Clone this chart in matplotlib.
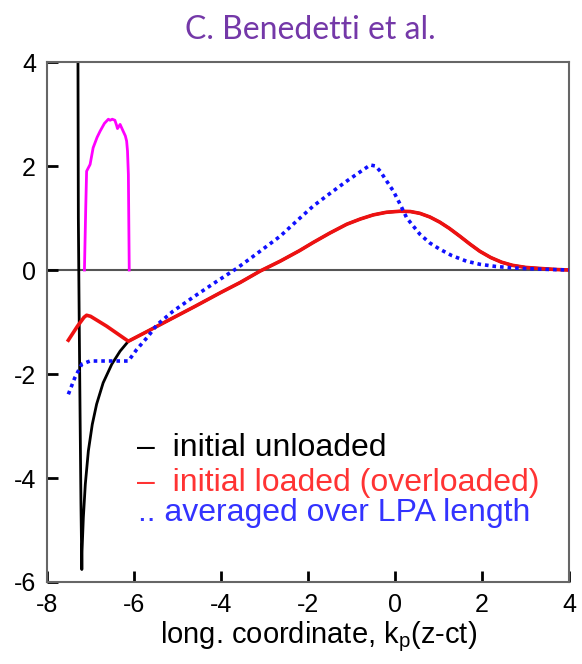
import numpy as np
import matplotlib.pyplot as plt

plt.switch_backend('Agg')
plt.rcParams['font.family'] = ['Liberation Sans', 'DejaVu Sans']
plt.rcParams['mathtext.fontset'] = 'custom'
plt.rcParams['mathtext.rm'] = 'Liberation Sans'
plt.rcParams['mathtext.it'] = 'Liberation Sans'
plt.rcParams['axes.unicode_minus'] = False

# --- data ---
# initial unloaded: steep drop near the driver, then merges with the wake
x_black = [-7.29, -7.28, -7.26, -7.24, -7.22, -7.20, -7.195, -7.165, -7.12, -7.05,
           -6.96, -6.86, -6.71, -6.51, -6.32, -6.13]
y_black = [4.5, 1.0, -1.0, -2.8, -4.5, -5.76, -5.40, -4.76, -4.12, -3.48,
           -2.97, -2.58, -2.17, -1.81, -1.56, -1.37]

# loaded: head part before the beam ends
x_red = [-7.51, -7.30, -7.15, -7.09, -7.00, -6.63, -6.13]
y_red = [-1.35, -1.08, -0.91, -0.87, -0.89, -1.08, -1.37]

# common wake behind the beam (black lies under red)
x_wake = [-6.13, -5.67, -5.17, -4.6, -4.0, -3.56, -3.1, -2.64, -2.2, -1.88, -1.5,
          -1.11, -0.8, -0.5, -0.2, 0.11, 0.35, 0.57, 0.8, 1.03, 1.25, 1.49, 1.72,
          1.95, 2.2, 2.45, 2.7, 3.0, 3.33, 3.7, 4.0]
y_wake = [-1.37, -1.17, -0.95, -0.70, -0.43, -0.24, -0.02, 0.17, 0.37, 0.53, 0.71,
          0.88, 0.98, 1.06, 1.11, 1.13, 1.125, 1.09, 1.02, 0.92, 0.80, 0.65, 0.50,
          0.36, 0.24, 0.15, 0.09, 0.05, 0.03, 0.01, 0.0]

# averaged over LPA length
x_avg = [-7.51, -7.36, -7.20, -7.01, -6.50, -6.13, -5.94, -5.67, -5.48, -5.10,
         -4.60, -4.10, -3.64, -3.20, -2.64, -2.25, -1.88, -1.50, -1.11, -0.85,
         -0.57, -0.45, -0.34, -0.20, -0.04, 0.12, 0.27, 0.57, 0.80, 1.03,
         1.30, 1.64, 1.95, 2.30, 2.70, 3.20, 3.60, 4.0]
y_avg = [-2.39, -2.07, -1.81, -1.75, -1.75, -1.75, -1.53, -1.27, -1.06, -0.79,
         -0.50, -0.22, 0.03, 0.30, 0.65, 0.95, 1.23, 1.47, 1.71, 1.86,
         2.02, 2.00, 1.90, 1.72, 1.52, 1.26, 1.0, 0.69, 0.52, 0.40,
         0.28, 0.17, 0.11, 0.07, 0.04, 0.02, 0.01, 0.0]

# beam current profile (magenta)
x_beam = [-7.14, -7.11, -7.09, -7.01, -6.94, -6.85, -6.78, -6.68, -6.59, -6.55,
          -6.50, -6.44, -6.40, -6.38, -6.32, -6.25, -6.20, -6.17, -6.15, -6.13, -6.11]
y_beam = [0.0, 1.2, 1.90, 2.03, 2.35, 2.55, 2.67, 2.82, 2.90, 2.88,
          2.90, 2.88, 2.78, 2.72, 2.80, 2.67, 2.58, 2.48, 2.29, 1.84, 0.0]

xticks = [-8, -6, -4, -2, 0, 2, 4]
yticks = [-6, -4, -2, 0, 2, 4]

fig = plt.figure(figsize=(5.82, 6.64), dpi=100)
ax = fig.add_axes([0.0808, 0.1235, 0.8969, 0.7831])

ax.axhline(0, color='#555555', lw=1.5, zorder=1)
ax.plot(x_black + x_wake[1:], y_black + y_wake[1:], color='black', lw=2.0, zorder=2)
ax.plot(x_red + x_wake[1:], y_red + y_wake[1:], color='#ee1111', lw=2.6, zorder=3)
ax.plot(x_avg, y_avg, color='#1010ff', lw=2.6, linestyle=(0, (1, 1.1)), zorder=4)
ax.plot(x_beam, y_beam, color='#ff00ff', lw=2.0, zorder=2)

ax.set_xlim(-8, 4)
ax.set_ylim(-6, 4)
ax.set_xticks(xticks)
ax.set_yticks(yticks)
ax.tick_params(direction='in', length=8, width=2, labelsize=18, color='black', pad=8)
for s in ax.spines.values():
    s.set_color('#666666')
    s.set_linewidth(1.5)

ax.set_xlabel('long. coordinate, k$_\\mathrm{p}$(z-ct)', fontsize=21, labelpad=2)
ax.xaxis.label.set_x(0.52)

# legend drawn as coloured text lines
fig.text(137 / 582, 1 - 456 / 664, '\u2013  initial unloaded', color='black', fontsize=23, va='baseline')
fig.text(137 / 582, 1 - 491 / 664, '\u2013  initial loaded (overloaded)', color='#ff3333', fontsize=23, va='baseline')
fig.text(138 / 582, 1 - 521 / 664, '.. averaged over LPA length', color='#3333ff', fontsize=23, va='baseline')

fig.text(310 / 582, 1 - 30 / 664, 'C. Benedetti et al.', color='#7438a8', fontsize=23,
         family=['Lato', 'DejaVu Sans'], ha='center', va='center')

fig.savefig('out.png', dpi=100)
